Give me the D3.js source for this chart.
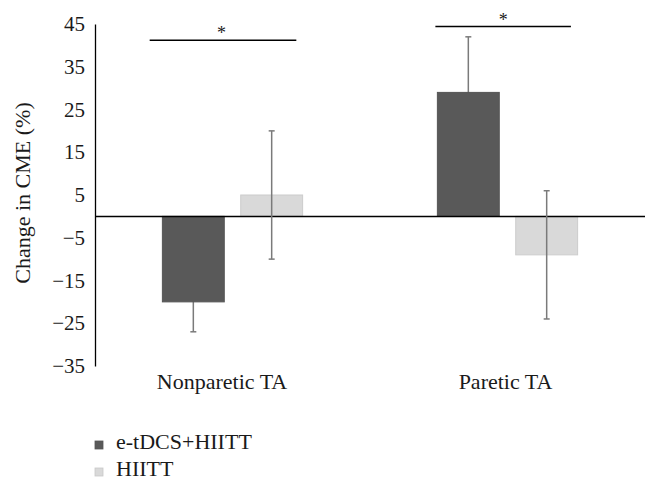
<!DOCTYPE html>
<html>
<head>
<meta charset="utf-8">
<script src="https://cdn.jsdelivr.net/npm/d3@7"></script>
<style>
  body { margin: 0; background: #fff; }
  svg text { font-family: "Liberation Serif", "DejaVu Serif", serif; fill: #1a1a1a; }
</style>
</head>
<body>
<div id="chart"></div>
<script>
// dados
const categories = ["Nonparetic TA", "Paretic TA"];
const seriesNames = ["e-tDCS+HIITT", "HIITT"];
const tdcsValues = [-20, 29];
const tdcsErrors = [7, 13];
const hiittValues = [5, -9];
const hiittErrors = [15, 15];
const yTicks = [45, 35, 25, 15, 5, -5, -15, -25, -35];
// nível das barras de significância (unidades do eixo y)
const sigLevels = [41.2, 44.4];

const width = 659, height = 493;
const margin = { top: 24, right: 14, bottom: 127, left: 95 };
const serif = "Liberation Serif, DejaVu Serif, serif";

const svg = d3.select("#chart").append("svg")
    .attr("width", width)
    .attr("height", height);

const x = d3.scaleBand()
    .domain(categories)
    .range([margin.left, margin.left + 550]);

const xSub = d3.scaleBand()
    .domain(seriesNames)
    .range([0, x.bandwidth()])
    .paddingInner(0.21)
    .paddingOuter(0.86);

const y = d3.scaleLinear()
    .domain([-35, 45])
    .range([height - margin.bottom, margin.top]);

const colors = { "e-tDCS+HIITT": "#595959", "HIITT": "#d9d9d9" };

const data = [];
categories.forEach((c, i) => {
    data.push({ cat: c, s: seriesNames[0], v: tdcsValues[i], e: tdcsErrors[i] });
    data.push({ cat: c, s: seriesNames[1], v: hiittValues[i], e: hiittErrors[i] });
});

// eixo y
const yAxis = svg.append("g")
    .attr("transform", `translate(${margin.left},0)`)
    .call(d3.axisLeft(y).tickValues(yTicks).tickSize(0).tickPadding(10)
        .tickFormat(d => d < 0 ? "\u2212" + Math.abs(d) : d));
yAxis.select(".domain").attr("stroke", "#000").attr("stroke-width", 1.3);
yAxis.selectAll("text")
    .attr("font-size", 21)
    .attr("font-family", serif)
    .attr("fill", "#1a1a1a");

const cx = d => x(d.cat) + xSub(d.s) + xSub.bandwidth() / 2;

function drawErrors(g, rows) {
    g.selectAll("line.v")
        .data(rows)
        .join("line")
        .attr("class", "v")
        .attr("x1", cx).attr("x2", cx)
        .attr("y1", d => y(d.v - d.e))
        .attr("y2", d => y(d.v + d.e));
    g.selectAll("line.top")
        .data(rows)
        .join("line")
        .attr("class", "top")
        .attr("x1", d => cx(d) - 3).attr("x2", d => cx(d) + 3)
        .attr("y1", d => y(d.v + d.e)).attr("y2", d => y(d.v + d.e));
    g.selectAll("line.bot")
        .data(rows)
        .join("line")
        .attr("class", "bot")
        .attr("x1", d => cx(d) - 3).attr("x2", d => cx(d) + 3)
        .attr("y1", d => y(d.v - d.e)).attr("y2", d => y(d.v - d.e));
}

// barras de erro da série escura ficam atrás das barras
drawErrors(svg.append("g").attr("stroke", "#7a7a7a").attr("stroke-width", 1.5),
    data.filter(d => d.s === seriesNames[0]));

// barras
svg.append("g").selectAll("rect")
    .data(data)
    .join("rect")
    .attr("x", d => x(d.cat) + xSub(d.s))
    .attr("width", xSub.bandwidth())
    .attr("y", d => y(Math.max(0, d.v)))
    .attr("height", d => Math.abs(y(d.v) - y(0)))
    .attr("fill", d => colors[d.s])
    .attr("stroke", d => d.s === "HIITT" ? "#cccccc" : "#555")
    .attr("stroke-width", 1);

// linha do zero
svg.append("line")
    .attr("x1", margin.left)
    .attr("x2", margin.left + 550)
    .attr("y1", y(0))
    .attr("y2", y(0))
    .attr("stroke", "#000")
    .attr("stroke-width", 1.5);

// barras de erro da série clara por cima
drawErrors(svg.append("g").attr("stroke", "#7a7a7a").attr("stroke-width", 1.5),
    data.filter(d => d.s === seriesNames[1]));

// significância
const sigPad = [[-12.7, -6.3], [-2, -6.7]];
const sig = svg.append("g");
categories.forEach((c, i) => {
    const x0 = x(c) + xSub(seriesNames[0]) + sigPad[i][0];
    const x1 = x(c) + xSub(seriesNames[1]) + xSub.bandwidth() + sigPad[i][1];
    sig.append("line")
        .attr("x1", x0).attr("x2", x1)
        .attr("y1", y(sigLevels[i])).attr("y2", y(sigLevels[i]))
        .attr("stroke", "#000").attr("stroke-width", 1.5);
    sig.append("text")
        .attr("x", (x0 + x1) / 2 - (i === 0 ? 1.5 : 0))
        .attr("y", y(sigLevels[i]) - 1)
        .attr("text-anchor", "middle")
        .attr("font-size", 18)
        .attr("font-family", serif)
        .text("*");
});

// rótulos das categorias
svg.append("g").selectAll("text")
    .data(categories)
    .join("text")
    .attr("x", (d, i) => x(d) + x.bandwidth() / 2 - (i === 0 ? 10.5 : 2))
    .attr("y", 389)
    .attr("text-anchor", "middle")
    .attr("font-size", 22)
    .attr("font-family", serif)
    .text(d => d);

// título do eixo y
svg.append("text")
    .attr("transform", `translate(30,193) rotate(-90)`)
    .attr("text-anchor", "middle")
    .attr("font-size", 22)
    .attr("font-family", serif)
    .text("Change in CME (%)");

// legenda
const legend = svg.append("g").selectAll("g")
    .data(seriesNames)
    .join("g")
    .attr("transform", (d, i) => `translate(95,${441 + i * 27})`);
legend.append("rect")
    .attr("width", 8).attr("height", 8)
    .attr("fill", d => colors[d])
    .attr("stroke", d => d === "HIITT" ? "#c8c8c8" : "#555")
    .attr("stroke-width", 0.8);
legend.append("text")
    .attr("x", 21)
    .attr("y", 8)
    .attr("font-size", 22)
    .attr("font-family", serif)
    .text(d => d);
</script>
</body>
</html>
